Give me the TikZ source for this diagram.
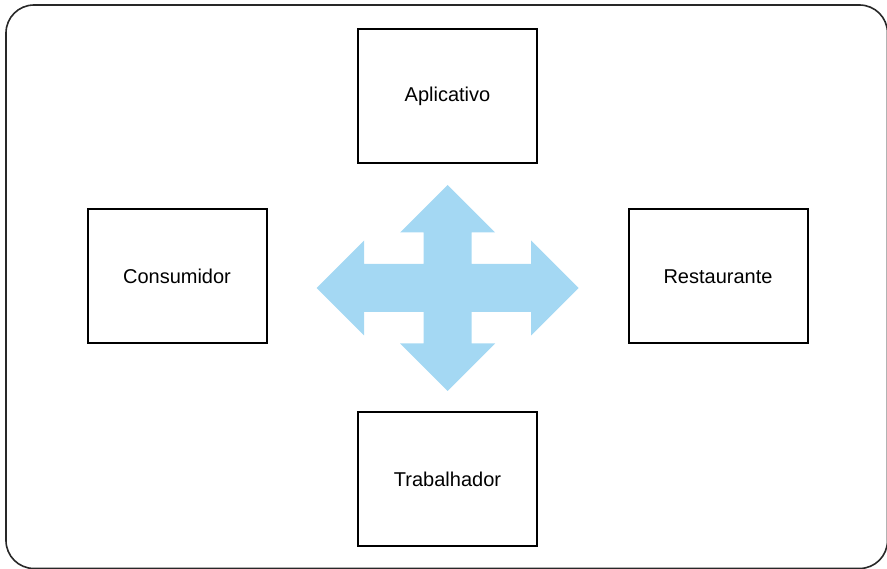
\documentclass[tikz,border=0pt]{standalone}
\usepackage{fontspec}
\setmainfont{Liberation Sans}
\usetikzlibrary{positioning}

\definecolor{arrowblue}{RGB}{164,216,243}
\definecolor{framegray}{RGB}{40,40,40}

\tikzset{
  actor/.style={draw=black, line width=2pt, minimum width=179pt, minimum height=134pt,
    inner sep=0pt, font=\fontsize{20}{24}\selectfont},
}

\begin{document}
\begin{tikzpicture}[x=1pt, y=-1pt]
\useasboundingbox (0,0) rectangle (887,569);
\draw[framegray, line width=1.6pt, rounded corners=28pt] (6,5) rectangle (887.5,568.5);

\node[actor] (aplicativo) at (447.5,96) {Aplicativo};
\node[actor] (consumidor) at (177,276.5) {Consumidor};
\node[actor] (restaurante) at (718,276.5) {Restaurante};
\node[actor] (trabalhador) at (447.5,479) {Trabalhador};

% four-way arrow
\coordinate (hub) at (447.5,288);
\fill[arrowblue, shift={(hub)}]
  (0,-103) -- (47.5,-55.5) -- (24,-55.5) -- (24,-24) -- (83.5,-24) -- (83.5,-47.5)
  -- (131,0) -- (83.5,47.5) -- (83.5,24) -- (24,24) -- (24,55.5) -- (47.5,55.5)
  -- (0,103) -- (-47.5,55.5) -- (-24,55.5) -- (-24,24) -- (-83.5,24) -- (-83.5,47.5)
  -- (-131,0) -- (-83.5,-47.5) -- (-83.5,-24) -- (-24,-24) -- (-24,-55.5) -- (-47.5,-55.5)
  -- cycle;
\end{tikzpicture}
\end{document}
